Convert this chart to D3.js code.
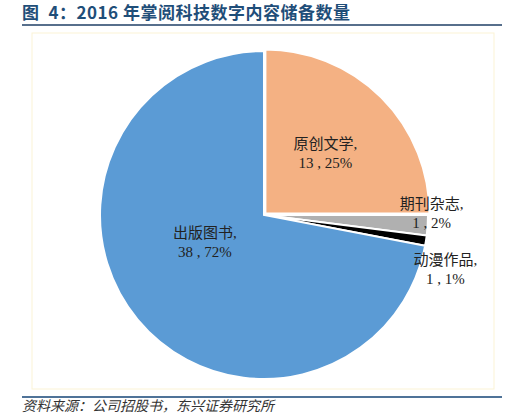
<!DOCTYPE html>
<html>
<head>
<meta charset="utf-8">
<script src="https://cdn.jsdelivr.net/npm/d3@7"></script>
<style>
  body { margin: 0; background: #fff; }
  svg { display: block; }
</style>
</head>
<body>
<div class="chart"></div>
<script>
// data
var categories = ["原创文学", "期刊杂志", "动漫作品", "出版图书"];
var counts = [13, 1, 1, 38];
var percents = [25, 2, 1, 72];
var colors = ["#f4b183", "#b0b0b0", "#000000", "#5b9bd5"];

var titleText = "图\u20024：2016 年掌阅科技数字内容储备数量";
var sourceText = "资料来源：公司招股书，东兴证券研究所";

var width = 523, height = 420;
var cx = 264, cy = 215, radius = 164;

var svg = d3.select(".chart")
  .append("svg")
    .attr("width", width)
    .attr("height", height);

// title + rules
svg.append("text")
  .attr("x", 22)
  .attr("y", 19)
  .attr("font-family", "'Noto Sans CJK SC', 'Liberation Sans', sans-serif")
  .attr("font-weight", "bold")
  .attr("font-size", 17)
  .attr("letter-spacing", 0.5)
  .attr("fill", "#1f4e79")
  .text(titleText);

svg.append("line")
  .attr("x1", 22).attr("x2", 502)
  .attr("y1", 25).attr("y2", 25)
  .attr("stroke", "#1f3f66")
  .attr("stroke-width", 1.5);

// plot area frame
svg.append("rect")
  .attr("x", 32).attr("y", 33)
  .attr("width", 462).attr("height", 356)
  .attr("fill", "none")
  .attr("stroke", "#fbf3d5")
  .attr("stroke-width", 1);

svg.append("line")
  .attr("x1", 22).attr("x2", 502)
  .attr("y1", 397).attr("y2", 397)
  .attr("stroke", "#4f7398")
  .attr("stroke-width", 2);

svg.append("text")
  .attr("x", 22)
  .attr("y", 411)
  .attr("font-family", "'Noto Sans CJK SC', sans-serif")
  .attr("font-style", "italic")
  .attr("font-size", 14)
  .attr("fill", "#333")
  .text(sourceText);

// pie
var rows = categories.map(function(c, i) {
  return {name: c, count: counts[i], pct: percents[i], color: colors[i]};
});

var pie = d3.pie()
  .sort(null)
  .value(function(d) { return d.pct; });

var arc = d3.arc().innerRadius(0).outerRadius(radius);

var arcs = pie(rows);

var g = svg.append("g")
  .attr("transform", "translate(" + cx + "," + cy + ")");

g.selectAll("path")
  .data(arcs)
  .enter().append("path")
    .attr("d", arc)
    .attr("fill", function(d) { return d.data.color; })
    .attr("stroke", "#fff")
    .attr("stroke-width", 2)
    .attr("transform", function(d, i) {
      // first slice is pulled out a little
      if (i !== 0) return null;
      var a = (d.startAngle + d.endAngle) / 2;
      return "translate(" + (2 * Math.sin(a)) + "," + (-2 * Math.cos(a)) + ")";
    });

// label positions: radius factor along the slice bisector, plus a nudge
var labelRadius = [0.52, 1.0, 1.12, 0.42];
var labelNudge = [[1, -1], [4, -12], [0, 26], [-6, -16]];

var labels = g.selectAll("text.lbl")
  .data(arcs)
  .enter().append("text")
    .attr("class", "lbl")
    .attr("text-anchor", "middle")
    .attr("font-family", "'Liberation Serif', 'Noto Sans CJK SC', serif")
    .attr("font-size", 15)
    .attr("fill", "#222")
    .attr("transform", function(d, i) {
      var a = (d.startAngle + d.endAngle) / 2;
      var r = radius * labelRadius[i];
      var x = r * Math.sin(a) + labelNudge[i][0];
      var y = -r * Math.cos(a) + labelNudge[i][1];
      return "translate(" + x + "," + y + ")";
    });

labels.append("tspan")
  .attr("x", 0)
  .attr("y", -4.5)
  .text(function(d) { return d.data.name + ","; });

labels.append("tspan")
  .attr("x", 0)
  .attr("y", 14.5)
  .text(function(d) { return d.data.count + " , " + d.data.pct + "%"; });
</script>
</body>
</html>
